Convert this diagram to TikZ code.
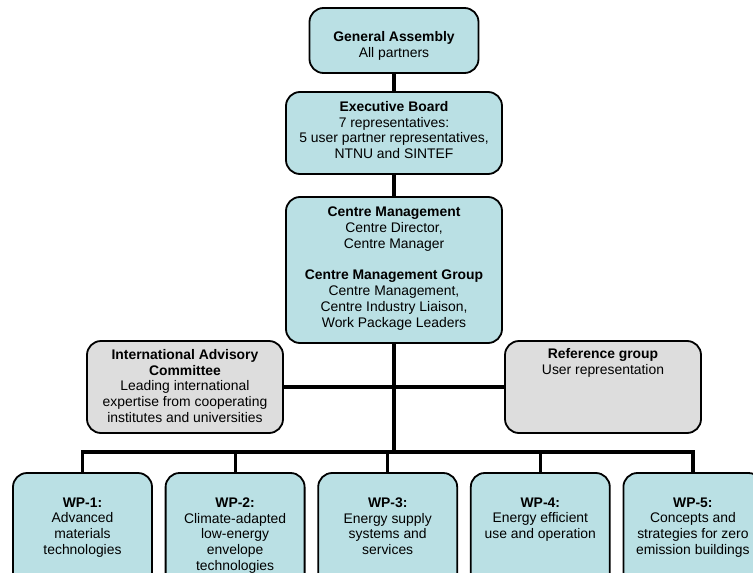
\documentclass[tikz,border=0pt]{standalone}
\usepackage{fontspec}
\setmainfont{Liberation Sans}
\usetikzlibrary{positioning}
\definecolor{boxteal}{RGB}{186,224,228}
\definecolor{boxgrey}{RGB}{221,221,221}

\begin{document}
\begin{tikzpicture}[x=1pt,y=-1pt,
    box/.style={draw=black,line width=1.8pt,rounded corners=14pt,inner sep=0pt},
    tealbox/.style={box,fill=boxteal},
    greybox/.style={box,fill=boxgrey},
    txt/.style={align=center,inner sep=0pt,font=\fontsize{13.9}{15.8}\selectfont},
    link/.style={line width=3.2pt}]
    \useasboundingbox (0,0) rectangle (753,573);
    \clip (0,0) rectangle (753,573);

    \node[tealbox,minimum width=169pt,minimum height=65pt] (GA) at (394,40.5) {};
    \node[txt,below=24pt of GA.north] (GAt) {\textbf{General Assembly}\\All partners};

    \node[tealbox,minimum width=216pt,minimum height=82pt] (EB) at (394,133) {};
    \node[txt,below=10pt of EB.north] (EBt) {\textbf{Executive Board}\\7 representatives:\\
        5 user partner representatives,\\NTNU and SINTEF};

    \node[tealbox,minimum width=216pt,minimum height=146pt] (CM) at (394,270) {};
    \node[txt,below=10.7pt of CM.north] (CMt) {\textbf{Centre Management}\\Centre Director,\\
        Centre Manager\\[15.8pt]\textbf{Centre Management Group}\\Centre Management,\\
        Centre Industry Liaison,\\Work Package Leaders};

    \node[greybox,minimum width=196pt,minimum height=92pt] (IAC) at (185,387) {};
    \node[txt,below=9pt of IAC.north] (IACt) {\textbf{International Advisory}\\\textbf{Committee}\\
        Leading international\\expertise from cooperating\\institutes and universities};

    \node[greybox,minimum width=196pt,minimum height=92pt] (RG) at (603,387) {};
    \node[txt,below=8.3pt of RG.north] (RGt) {\textbf{Reference group}\\User representation};

    \node[tealbox,minimum width=139pt,minimum height=127pt] (WP1) at (82.5,536.5) {};
    \node[txt,below=25.3pt of WP1.north] (WP1t) {\textbf{WP-1:}\\Advanced\\materials\\technologies};
    \node[tealbox,minimum width=139pt,minimum height=127pt] (WP2) at (235.1,536.5) {};
    \node[txt,below=25.3pt of WP2.north] (WP2t) {\textbf{WP-2:}\\Climate-adapted\\low-energy\\envelope\\technologies};
    \node[tealbox,minimum width=139pt,minimum height=127pt] (WP3) at (387.7,536.5) {};
    \node[txt,below=25.3pt of WP3.north] (WP3t) {\textbf{WP-3:}\\Energy supply\\systems and\\services};
    \node[tealbox,minimum width=139pt,minimum height=127pt] (WP4) at (540.3,536.5) {};
    \node[txt,below=25.3pt of WP4.north] (WP4t) {\textbf{WP-4:}\\Energy efficient\\use and operation};
    \node[tealbox,minimum width=139pt,minimum height=127pt] (WP5) at (692.9,536.5) {};
    \node[txt,below=25.3pt of WP5.north] (WP5t) {\textbf{WP-5:}\\Concepts and\\strategies for zero\\emission buildings};

    \coordinate (bus) at (394,452);
    \draw[link] (GA) edge (EB)
                (EB) edge (CM)
                (IAC) edge (RG)
                (CM.south) edge (CM.south |- bus);
    \draw[link] (WP1.north) -- (WP1.north |- bus) -- (WP5.north |- bus) -- (WP5.north);
    \draw[link] (WP2.north) edge (WP2.north |- bus)
                (WP3.north) edge (WP3.north |- bus)
                (WP4.north) edge (WP4.north |- bus);
\end{tikzpicture}
\end{document}
